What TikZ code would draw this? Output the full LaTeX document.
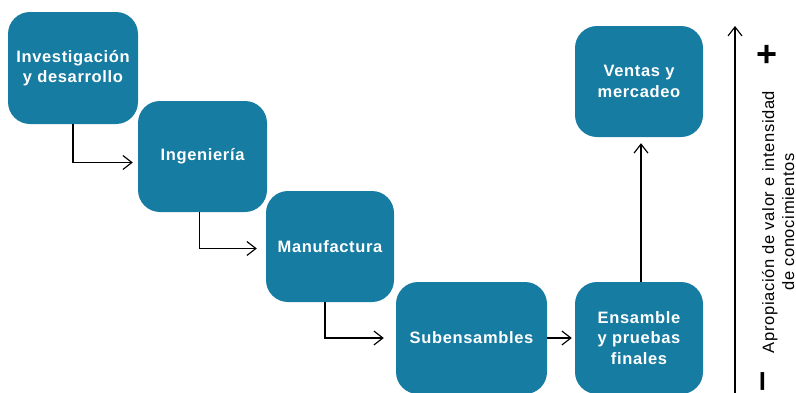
\documentclass[tikz,border=0pt]{standalone}
\usepackage{fontspec}
\setmainfont{Liberation Sans}[LetterSpace=4]
\usetikzlibrary{arrows.meta}
\definecolor{stage}{RGB}{22,124,162}
\tikzset{
  stagebox/.style={rectangle, rounded corners=22pt, fill=stage, draw=none,
    text=white, align=center, inner sep=0pt,
    font=\fontsize{16.5}{20.5}\selectfont\bfseries},
  flow/.style={draw=black, line width=1.15pt,
    -{Straight Barb[length=9pt,width=14pt,line width=1.15pt]}},
}
\begin{document}
\begin{tikzpicture}[x=1pt,y=-1pt]
\useasboundingbox (0,0) rectangle (796,392);

% value-chain stages
\node[stagebox, minimum width=130pt, minimum height=112pt] (b1) at (73,68) {Investigación\\y desarrollo};
\node[stagebox, minimum width=129pt, minimum height=111pt] (b2) at (202.5,156.5) {Ingeniería};
\node[stagebox, minimum width=128pt, minimum height=111pt] (b3) at (330,246.5) {Manufactura};
\node[stagebox, minimum width=151pt, minimum height=112pt] (b4) at (471.5,338) {Subensambles};
\node[stagebox, minimum width=128pt, minimum height=112pt] (b5) at (639,338) {Ensamble\\y pruebas\\finales};
\node[stagebox, minimum width=128pt, minimum height=111pt] (b6) at (639,81.5) {Ventas y\\mercadeo};

% flow between stages
\draw[flow] (b1.south) |- ([xshift=-5pt,yshift=-6pt]b2.west);
\draw[flow] ([xshift=-3pt]b2.south) |- ([xshift=-9pt,yshift=-2pt]b3.west);
\draw[flow] ([xshift=-5pt]b3.south) |- ([xshift=-12pt]b4.west);
\draw[flow, shorten >=3pt] (b4.east) -- (b5.west);
\draw[flow, shorten >=6pt] ([xshift=2pt]b5.north) -- ([xshift=2pt]b6.south);

% value / knowledge-intensity axis
\coordinate (axb) at (735,394);
\coordinate (axt) at (735,26);
\draw[flow] (axb) -- (axt);
\node[font=\fontsize{36}{36}\selectfont\bfseries, inner sep=0pt] (plus) at (767,56) {+};
\node[font=\fontsize{36}{36}\selectfont\bfseries, inner sep=0pt, rotate=90] (minus) at (767,381) {–};
\node[rotate=90, align=center, inner sep=0pt, font=\fontsize{16.5}{20}\selectfont] (axlabel) at (778,222)
  {Apropiación de valor e intensidad\\de conocimientos};
\end{tikzpicture}
\end{document}
